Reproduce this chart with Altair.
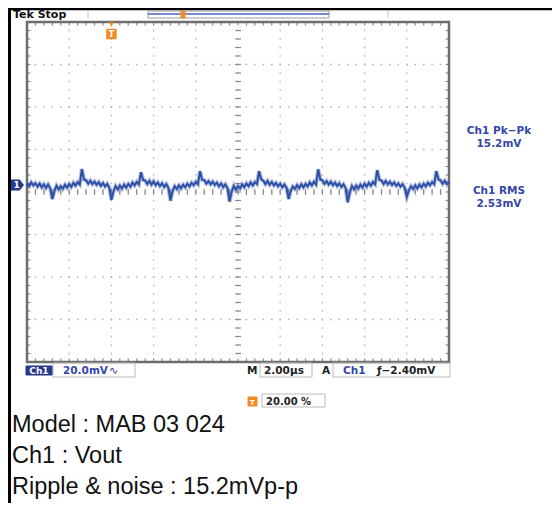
import altair as alt
import pandas as pd

# ---------------- data read from the screen ----------------
# time axis: 10 divisions x 2.00 us/div, one sample every 0.1 us
TIME_US = [round(i * 0.1, 1) for i in range(201)]
# Ch1 ripple & noise (mV relative to the Ch1 ground marker)
VOUT_MV = [
    0.8, -0.6, 1.2, -0.2, 0.9, -0.8, 0.6, -1.1, 0.3, -1.4, 0.2, -1.6,
    -6.6, -2.8,
    -0.4, -2.1, -0.6, -1.8, 0.1, -1.3, 0.4, -0.9, 1.0, -0.3, 1.3, 0.2,
    7.5, 2.6,
    2.2, 0.6, 2.0, 0.4, 1.6, 0.1, 1.3, -0.4, 0.9, -0.7, 0.5, -1.2,
    -7.0, -3.0,
    -0.5, -2.0, -0.3, -1.7, 0.2, -1.2, 0.5, -0.8, 1.1, -0.2, 1.4, 0.3,
    6.0, 2.4,
    2.1, 0.5, 1.9, 0.2, 1.7, -0.1, 1.2, -0.5, 0.8, -0.9, 0.4, -1.3,
    -7.4, -2.9,
    -0.6, -1.9, -0.2, -1.6, 0.1, -1.1, 0.6, -0.7, 1.0, -0.1, 1.5, 0.4,
    6.5, 2.5,
    2.3, 0.7, 1.8, 0.3, 1.5, 0.0, 1.1, -0.6, 0.7, -1.0, 0.3, -1.5,
    -7.8, -3.2,
    -0.4, -2.2, -0.5, -1.6, 0.3, -1.0, 0.7, -0.6, 1.2, -0.2, 1.4, 0.5,
    6.5, 2.7,
    2.0, 0.4, 1.9, 0.1, 1.4, -0.2, 1.0, -0.6, 0.6, -1.1, 0.2, -1.4,
    -6.6, -2.7,
    -0.7, -1.8, -0.1, -1.5, 0.3, -1.1, 0.5, -0.7, 1.2, -0.2, 1.5, 0.2,
    7.4, 2.6,
    2.2, 0.6, 1.8, 0.2, 1.5, -0.1, 1.1, -0.5, 0.8, -0.9, 0.3, -1.4,
    -8.2, -3.4,
    -0.5, -2.0, -0.3, -1.7, 0.2, -1.2, 0.6, -0.8, 1.0, -0.3, 1.4, 0.3,
    7.0, 2.5,
    2.1, 0.5, 1.9, 0.3, 1.5, 0.0, 1.2, -0.4, 0.7, -0.8, 0.4, -1.3,
    -5.6, -2.5,
    -0.6, -1.9, -0.2, -1.6, 0.2, -1.1, 0.6, -0.7, 1.1, -0.1, 1.4, 0.4,
    6.5, 2.6,
    2.2, 0.6, 2.0, 0.4, 1.6,
]
GROUND_MV = 3.3          # Ch1 ground marker sits slightly above screen centre
TRIGGER_US = 4.0         # trigger position (20.00 %)

MAJOR_T = [0, 2, 4, 6, 8, 10, 12, 14, 16, 18, 20]
MAJOR_V = [-80, -60, -40, -20, 0, 20, 40, 60, 80]

STATUS_TOP = "Tek Stop"
STATUS_CH = "Ch1"
STATUS_SCALE = "20.0mV"
STATUS_TIME = "2.00\u00b5s"
STATUS_TRIG = "\u0192\u22122.40mV"
STATUS_POS = "20.00 %"
MEAS_LABELS = ["Ch1 Pk\u2212Pk", "15.2mV", "Ch1 RMS", "2.53mV"]
CAPTION = ["Model : MAB 03 024", "Ch1 : Vout", "Ripple & noise : 15.2mVp-p"]

# ---------------- styling ----------------
TRACE = "#2d4fa6"
BLUE_TXT = "#3446aa"
GRID = "#b0b0b0"
BORDER = "#6e6e6e"
ORANGE = "#f28a26"
DARKBLUE = "#27398c"

xs = alt.Scale(domain=[0, 20], nice=False, zero=False)
ys = alt.Scale(domain=[-80, 80], nice=False, zero=False)

trace_df = pd.DataFrame({"t": TIME_US, "v": [v + GROUND_MV for v in VOUT_MV]})

minor_t = [round(i * 0.4, 1) for i in range(1, 50)]
minor_v = [-80 + i * 4 for i in range(1, 40)]
rows = []
for t in minor_t:
    rows.append(dict(x=t, x2=t, y=80, y2=78.3))
    rows.append(dict(x=t, x2=t, y=-80, y2=-78.3))
    rows.append(dict(x=t, x2=t, y=-1.4, y2=1.4))
for v in minor_v:
    rows.append(dict(x=0, x2=0.16, y=v, y2=v))
    rows.append(dict(x=20, x2=19.84, y=v, y2=v))
    rows.append(dict(x=9.86, x2=10.14, y=v, y2=v))
ticks_df = pd.DataFrame(rows)

ONE = pd.DataFrame({"k": [0]})


def label(text, x, y, size=11, color="#111", weight="bold", align="left",
          baseline="alphabetic", font="DejaVu Sans"):
    return alt.Chart(ONE).mark_text(
        text=text, fontSize=size, color=color, fontWeight=weight, align=align,
        baseline=baseline, font=font
    ).encode(x=alt.value(x), y=alt.value(y))


def box(x, x2, y, y2, stroke="#b9b9b9", fill=None, sw=1):
    kw = dict(stroke=stroke, strokeWidth=sw)
    if fill is None:
        kw["filled"] = False
    else:
        kw["fill"] = fill
    return alt.Chart(ONE).mark_rect(**kw).encode(
        x=alt.value(x), x2=alt.value(x2), y=alt.value(y), y2=alt.value(y2))


def hline(x, x2, y, color, sw=1):
    return alt.Chart(ONE).mark_rule(color=color, strokeWidth=sw).encode(
        x=alt.value(x), x2=alt.value(x2), y=alt.value(y))


def vline(x, y, y2, color, sw=1):
    return alt.Chart(ONE).mark_rule(color=color, strokeWidth=sw).encode(
        x=alt.value(x), y=alt.value(y), y2=alt.value(y2))


grid_v = alt.Chart(pd.DataFrame({"t": MAJOR_T[1:-1]})).mark_rule(
    color=GRID, strokeWidth=1.3, strokeDash=[1.5, 7.0], strokeDashOffset=0.75
).encode(x=alt.X("t:Q", scale=xs, axis=None))
grid_h = alt.Chart(pd.DataFrame({"v": MAJOR_V[1:-1]})).mark_rule(
    color=GRID, strokeWidth=1.3, strokeDash=[1.5, 6.94], strokeDashOffset=0.75
).encode(y=alt.Y("v:Q", scale=ys, axis=None))
ticks = alt.Chart(ticks_df).mark_rule(color="#8c8c8c", strokeWidth=1.2).encode(
    x=alt.X("x:Q", scale=xs, axis=None), x2="x2:Q",
    y=alt.Y("y:Q", scale=ys, axis=None), y2="y2:Q")
border = alt.Chart(ONE).mark_rect(filled=False, stroke=BORDER, strokeWidth=2.5).encode(
    x=alt.X(datum=0, scale=xs, axis=None), x2=alt.datum(20),
    y=alt.Y(datum=-80, scale=ys, axis=None), y2=alt.datum(80))

trace_halo = alt.Chart(trace_df).mark_line(color=TRACE, strokeWidth=4.2, opacity=0.35).encode(
    x=alt.X("t:Q", scale=xs, axis=None), y=alt.Y("v:Q", scale=ys, axis=None))
trace = alt.Chart(trace_df).mark_line(color=TRACE, strokeWidth=2.0).encode(
    x=alt.X("t:Q", scale=xs, axis=None), y=alt.Y("v:Q", scale=ys, axis=None))

gnd_shape = "M -1 -0.85 L 0.35 -0.85 L 1 0 L 0.35 0.85 L -1 0.85 Z"
gnd = alt.Chart(ONE).mark_point(shape=gnd_shape, size=169, filled=True,
                                color=DARKBLUE, opacity=1).encode(
    x=alt.value(-9.5), y=alt.Y(datum=GROUND_MV, scale=ys, axis=None))
gnd_txt = alt.Chart(ONE).mark_text(text="1", fontSize=9, fontWeight="bold",
                                   color="white", font="DejaVu Sans",
                                   baseline="middle").encode(
    x=alt.value(-10.5), y=alt.Y(datum=GROUND_MV, scale=ys, axis=None))

trig_tri = alt.Chart(ONE).mark_point(shape="triangle-down", size=28, filled=True,
                                     color=ORANGE, opacity=1).encode(
    x=alt.X(datum=TRIGGER_US, scale=xs, axis=None), y=alt.value(2.5))
trig_box = alt.Chart(ONE).mark_point(shape="square", size=110, filled=True,
                                     color=ORANGE, opacity=1).encode(
    x=alt.X(datum=TRIGGER_US, scale=xs, axis=None), y=alt.value(12))
trig_txt = alt.Chart(ONE).mark_text(text="T", fontSize=8, fontWeight="bold",
                                    color="white", font="DejaVu Sans",
                                    baseline="middle").encode(
    x=alt.X(datum=TRIGGER_US, scale=xs, axis=None), y=alt.value(12.5))

# frame lines of the picture
frame = [
    alt.Chart(ONE).mark_rule(color="black", strokeWidth=2.5).encode(
        x=alt.value(-19), x2=alt.value(525), y=alt.value(-13)),
    alt.Chart(ONE).mark_rule(color="black", strokeWidth=3).encode(
        x=alt.value(-17.5), y=alt.value(-14), y2=alt.value(481)),
]

# top status bar
top_bar = [
    vline(61, -11, -4, "#c8c8c8"),
    vline(361, -11, -4, "#c8c8c8"),
    box(121, 302, -11, -4, stroke="#9a9a9a"),
    hline(121, 302, -8, "#4a63bf", 1.5),
    box(154, 158, -11, -4, stroke=ORANGE, fill=ORANGE),
    label(STATUS_TOP, -14, -4, size=11, color="#111"),
]

# bottom status bar
bottom_bar = [
    box(26, 108, 341, 355),
    box(-1, 25, 344, 353, stroke=DARKBLUE, fill=DARKBLUE),
    label(STATUS_CH, 12, 352, size=9, color="white", align="center"),
    label(STATUS_SCALE, 36, 352, size=10.5, color=BLUE_TXT),
    label("\u223f", 82, 352, size=11, color=BLUE_TXT, weight="normal"),
    label("M", 220, 352, size=10.5, color="#222"),
    box(233, 285, 341, 355),
    label(STATUS_TIME, 237, 352, size=10.5, color="#222"),
    label("A", 295, 352, size=10.5, color="#222"),
    box(306, 423, 341, 355),
    label(STATUS_CH, 316, 352, size=10.5, color=BLUE_TXT),
    label(STATUS_TRIG, 350, 352, size=10.5, color="#222"),
    box(221, 230, 375, 384, stroke=ORANGE, fill=ORANGE),
    label("T", 225.5, 383, size=7, color="white", align="center"),
    box(235, 298, 372, 385),
    label(STATUS_POS, 239, 382.5, size=10, color="#222"),
]

# measurement readouts
meas = [
    label(MEAS_LABELS[0], 472, 112, size=10.5, color=BLUE_TXT, align="center"),
    label(MEAS_LABELS[1], 472, 125, size=10.5, color=BLUE_TXT, align="center"),
    label(MEAS_LABELS[2], 472, 172, size=10.5, color=BLUE_TXT, align="center"),
    label(MEAS_LABELS[3], 472, 185, size=10.5, color=BLUE_TXT, align="center"),
]

caption = [
    label(CAPTION[0], -15, 410, size=23.5, color="#111", weight="normal", font="Liberation Sans"),
    label(CAPTION[1], -15, 441, size=23.5, color="#111", weight="normal", font="Liberation Sans"),
    label(CAPTION[2], -15, 472, size=23.5, color="#111", weight="normal", font="Liberation Sans"),
]

chart = alt.layer(
    grid_v, grid_h, ticks, border, trace_halo, trace,
    gnd, gnd_txt, trig_tri, trig_box, trig_txt,
    *frame, *top_bar, *bottom_bar, *meas, *caption
).properties(
    width=422, height=340,
    autosize=alt.AutoSizeParams(type="none"),
    padding={"left": 19, "top": 14, "right": 103, "bottom": 141},
    background="white",
).configure_view(strokeWidth=0)

chart.save("out.html", embed_options={"renderer": "svg", "actions": False})
